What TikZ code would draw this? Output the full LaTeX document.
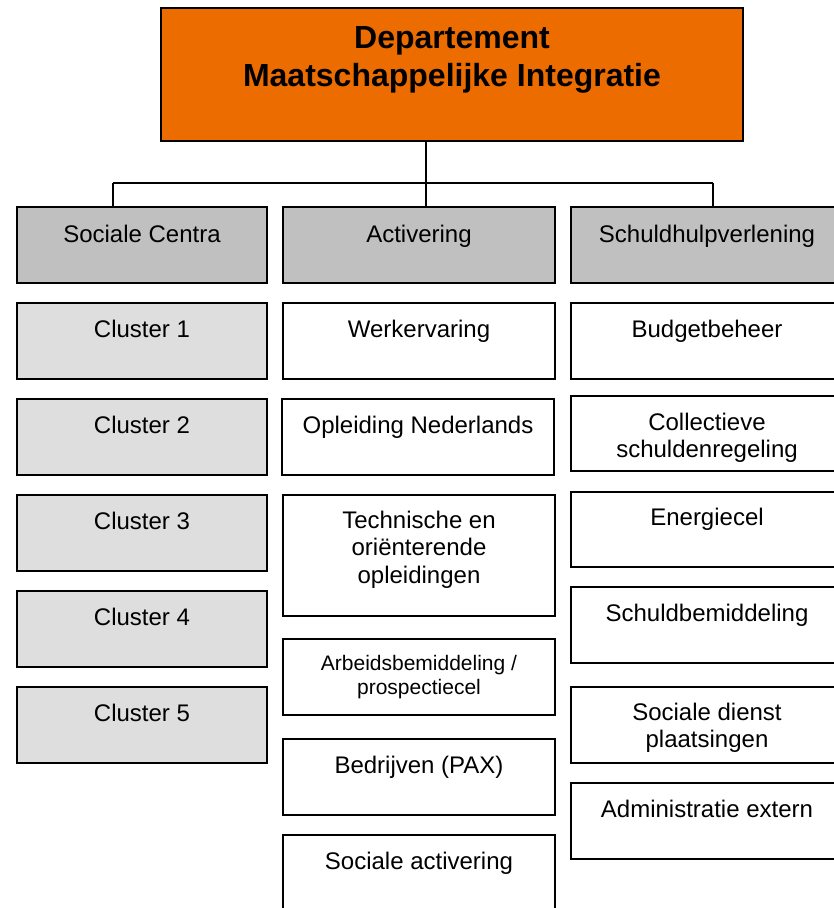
\documentclass[tikz,border=0pt]{standalone}
\usepackage{fontspec}
\setmainfont{Liberation Sans}
\definecolor{orangeT}{RGB}{236,108,0}
\definecolor{hdrgray}{RGB}{192,192,192}
\definecolor{clgray}{RGB}{222,222,222}
\begin{document}
\begin{tikzpicture}[x=1pt,y=-1pt,
  box/.style={draw=black,line width=1.5pt,rectangle,anchor=north west,inner sep=0pt,outer sep=0pt,fill=white},
  hdr/.style={box,fill=hdrgray,minimum height=76pt},
  clbox/.style={box,fill=clgray,minimum width=250pt,minimum height=76pt},
  mbox/.style={box,minimum width=272pt,minimum height=76pt},
  txt/.style={anchor=base,align=center,inner sep=0pt,font=\fontsize{24}{27.5}\selectfont},
  smalltxt/.style={anchor=base,align=center,inner sep=0pt,font=\fontsize{21}{24}\selectfont},
  conn/.style={draw=black,line width=1.5pt}]
\useasboundingbox (0,0) rectangle (834,908);
\clip (0,0) rectangle (834,908);
% top
\node[box,fill=orangeT,minimum width=582pt,minimum height=133pt] (top) at (161,8) {};
\node[anchor=base,align=center,inner sep=0pt,font=\fontsize{32}{37.5}\selectfont\bfseries] (toptxt) at ([yshift=-78pt]top.north) {Departement\\Maatschappelijke Integratie};
% headers
\node[hdr,minimum width=250pt] (sc) at (17,207) {};
\node[hdr,minimum width=272pt] (act) at (283,207) {};
\node[hdr,minimum width=272pt] (sh) at (571,207) {};
\node[txt] (sct) at ([yshift=-35pt]sc.north) {Sociale Centra};
\node[txt] (actt) at ([yshift=-35pt]act.north) {Activering};
\node[txt] (sht) at ([yshift=-35pt]sh.north) {Schuldhulpverlening};
% connectors
\coordinate (j) at (426,183);
\coordinate (jl) at (113,183);
\coordinate (jr) at (713,183);
\draw[conn] (j |- top.south) -- (j |- act.north);
\draw[conn] (jl) -- (jr);
\draw[conn] (jl) -- (jl |- sc.north);
\draw[conn] (jr) -- (jr |- sh.north);
% left column
\node[clbox] (c1) at (17,303) {};
\node[clbox] (c2) at (17,399) {};
\node[clbox] (c3) at (17,495) {};
\node[clbox] (c4) at (17,591) {};
\node[clbox] (c5) at (17,687) {};
\node[txt] (c1t) at ([yshift=-34pt]c1.north) {Cluster 1};
\node[txt] (c2t) at ([yshift=-34pt]c2.north) {Cluster 2};
\node[txt] (c3t) at ([yshift=-34pt]c3.north) {Cluster 3};
\node[txt] (c4t) at ([yshift=-34pt]c4.north) {Cluster 4};
\node[txt] (c5t) at ([yshift=-34pt]c5.north) {Cluster 5};
% middle column
\node[mbox] (m1) at (283,303) {};
\node[mbox] (m2) at (282,399) {};
\node[mbox,minimum height=121pt] (m3) at (283,495) {};
\node[mbox] (m4) at (283,639) {};
\node[mbox] (m5) at (283,739) {};
\node[mbox] (m6) at (283,835) {};
\node[txt] (m1t) at ([yshift=-34pt]m1.north) {Werkervaring};
\node[txt] (m2t) at ([yshift=-34pt]m2.north) {Opleiding Nederlands};
\node[txt] (m3t) at ([yshift=-88pt]m3.north) {Technische en\\oriënterende\\opleidingen};
\node[smalltxt] (m4t) at ([yshift=-55pt]m4.north) {Arbeidsbemiddeling /\\prospectiecel};
\node[txt] (m5t) at ([yshift=-34pt]m5.north) {Bedrijven (PAX)};
\node[txt] (m6t) at ([yshift=-34pt]m6.north) {Sociale activering};
% right column
\node[mbox] (r1) at (571,303) {};
\node[mbox,minimum height=75pt] (r2) at (571,396) {};
\node[mbox,minimum height=75pt] (r3) at (571,492) {};
\node[mbox] (r4) at (571,587) {};
\node[mbox] (r5) at (571,687) {};
\node[mbox] (r6) at (571,783) {};
\node[txt] (r1t) at ([yshift=-34pt]r1.north) {Budgetbeheer};
\node[txt] (r2t) at ([yshift=-61.5pt]r2.north) {Collectieve\\schuldenregeling};
\node[txt] (r3t) at ([yshift=-33pt]r3.north) {Energiecel};
\node[txt] (r4t) at ([yshift=-34pt]r4.north) {Schuldbemiddeling};
\node[txt] (r5t) at ([yshift=-60.5pt]r5.north) {Sociale dienst\\plaatsingen};
\node[txt] (r6t) at ([yshift=-34pt]r6.north) {Administratie extern};
\end{tikzpicture}
\end{document}
